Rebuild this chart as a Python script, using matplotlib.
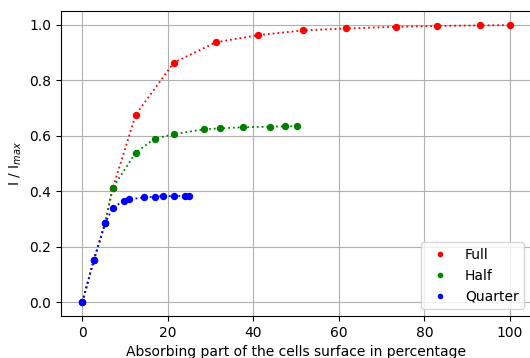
import numpy as np
import matplotlib
matplotlib.use("Agg")
import matplotlib.pyplot as plt

# data
full_x = [0, 2.67, 5.3, 7.1, 12.5, 21.4, 31.2, 41.1, 51.7, 61.7, 73.3, 83.0, 93.0, 100]
full_y = [0, 0.151, 0.284, 0.41, 0.676, 0.863, 0.936, 0.962, 0.979, 0.986, 0.992, 0.995, 0.997, 0.998]

half_x = [0, 2.67, 5.3, 7.1, 12.5, 16.9, 21.4, 28.5, 32.2, 37.5, 43.8, 47.4, 50.1]
half_y = [0, 0.151, 0.284, 0.412, 0.539, 0.589, 0.605, 0.623, 0.626, 0.630, 0.632, 0.633, 0.634]

quarter_x = [0, 2.67, 5.3, 7.1, 9.8, 10.8, 14.4, 17.0, 18.8, 21.5, 24.1, 25.0]
quarter_y = [0, 0.151, 0.284, 0.340, 0.366, 0.370, 0.377, 0.380, 0.382, 0.382, 0.383, 0.384]

fig = plt.figure(figsize=(5.3, 3.58), dpi=100)
ax = fig.add_axes([61 / 530, 42 / 358, 470.2 / 530, 305.3 / 358])

series = [(full_x, full_y, "red", "Full"),
          (half_x, half_y, "green", "Half"),
          (quarter_x, quarter_y, "blue", "Quarter")]

for x, y, c, lab in series:
    ax.plot(x, y, ":", color=c, lw=1.3)
    ax.plot(x, y, "o", color=c, ms=4.3, label=lab)

ax.set_xlim(-5, 105)
ax.set_ylim(-0.05, 1.05)
ax.set_xticks([0, 20, 40, 60, 80, 100])
ax.grid(True)
ax.set_axisbelow(True)
ax.set_xlabel("Absorbing part of the cells surface in percentage")
ax.set_ylabel("I / I$_{max}$")
ax.legend(loc="lower right", markerscale=0.7)

fig.savefig("out.png", dpi=100)
